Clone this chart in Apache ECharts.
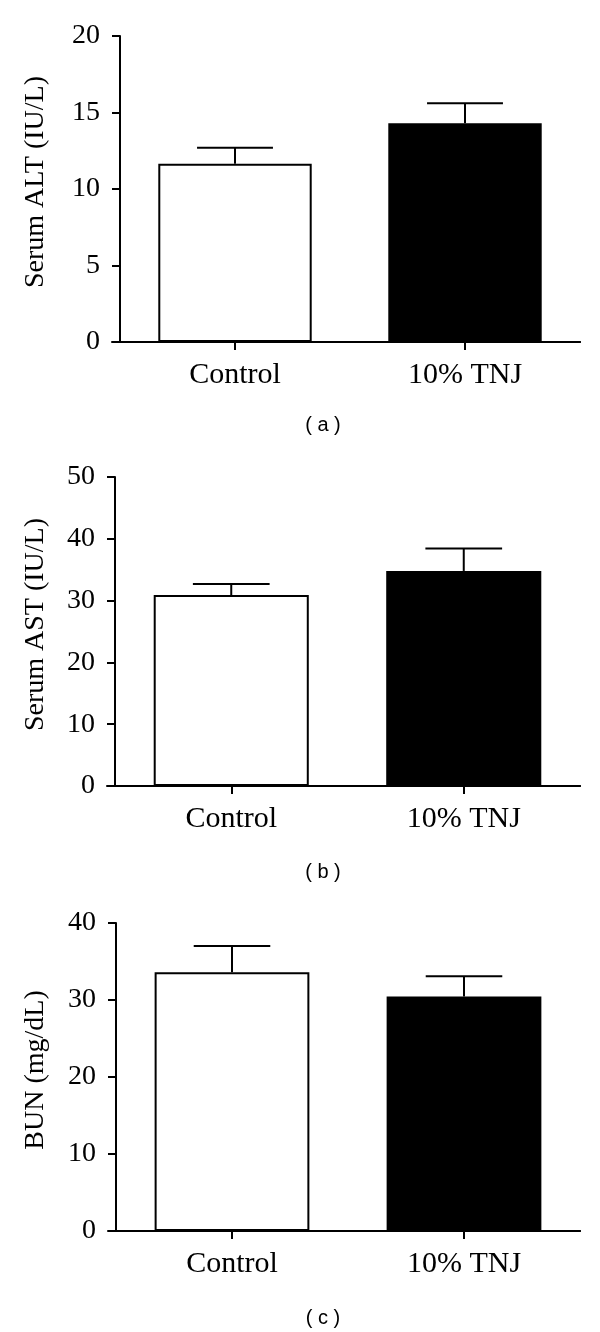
<!DOCTYPE html>
<html>
<head>
<meta charset="utf-8">
<script src="https://cdn.jsdelivr.net/npm/echarts@6/dist/echarts.min.js"></script>
<style>
  html, body { margin: 0; padding: 0; background: #fff; }
  #chart { width: 600px; height: 1332px; }
</style>
</head>
<body>
<div id="chart"></div>
<script>
// 数据
const categories = ['Control', '10% TNJ']

const altMean = [11.65, 14.3]
const altSem = [1.05, 1.3]
const altTicks = [0, 5, 10, 15, 20]

const astMean = [30.9, 34.8]
const astSem = [1.8, 3.65]
const astTicks = [0, 10, 20, 30, 40, 50]

const bunMean = [33.6, 30.45]
const bunSem = [3.4, 2.65]
const bunTicks = [0, 10, 20, 30, 40]

const axisNames = ['Serum ALT (IU/L)', 'Serum AST (IU/L)', 'BUN (mg/dL)']
const captions = ['( a )', '( b )', '( c )']

// 布局 (px)
const panels = [
  { mean: altMean, sem: altSem, ticks: altTicks, top: 36, bottom: 990, left: 120, stub: 112, gap: 70, cap: 425 },
  { mean: astMean, sem: astSem, ticks: astTicks, top: 477, bottom: 546, left: 115, stub: 107, gap: 65, cap: 872 },
  { mean: bunMean, sem: bunSem, ticks: bunTicks, top: 923, bottom: 101, left: 116, stub: 108, gap: 66, cap: 1318 }
]

const serif = 'Liberation Serif'
const black = '#000'
const lineStyle = { color: black, width: 2 }

const grid = []
const xAxis = []
const yAxis = []
const series = []
const graphic = []

panels.forEach((p, i) => {
  const gi = grid.length
  // 主绘图区
  grid.push({ left: p.left, right: 20, top: p.top, bottom: p.bottom })
  // x 轴左侧延伸段
  grid.push({ left: p.stub, right: 20, top: p.top, bottom: p.bottom })

  xAxis.push({
    type: 'category',
    gridIndex: gi,
    data: categories,
    axisLine: { show: true, lineStyle },
    axisTick: { show: true, alignWithLabel: true, length: 8, lineStyle },
    axisLabel: { color: black, fontFamily: serif, fontSize: 30, margin: 18 }
  })
  xAxis.push({
    type: 'value',
    gridIndex: gi + 1,
    axisLine: { show: true, lineStyle },
    axisTick: { show: false },
    axisLabel: { show: false },
    splitLine: { show: false }
  })

  const t = p.ticks
  yAxis.push({
    type: 'value',
    gridIndex: gi,
    min: t[0],
    max: t[t.length - 1],
    interval: t[1] - t[0],
    name: axisNames[i],
    nameLocation: 'middle',
    nameGap: p.gap,
    nameTextStyle: { color: black, fontFamily: serif, fontSize: 28, padding: [0, 0, 0, 14] },
    axisLine: { show: true, lineStyle },
    axisTick: { show: true, length: 8, lineStyle },
    axisLabel: { color: black, fontFamily: serif, fontSize: 28, margin: 20 },
    splitLine: { show: false }
  })
  yAxis.push({
    type: 'value',
    gridIndex: gi + 1,
    show: false,
    splitLine: { show: false }
  })

  const xi = xAxis.length - 2
  const yi = yAxis.length - 2

  series.push({
    type: 'bar',
    xAxisIndex: xi,
    yAxisIndex: yi,
    barWidth: '66.7%',
    silent: true,
    data: p.mean.map((v, k) => ({
      value: v,
      itemStyle: {
        color: k === 0 ? '#fff' : black,
        borderColor: black,
        borderWidth: 2
      }
    })),
    z: 2
  })

  // 误差线 (仅向上)
  series.push({
    type: 'custom',
    xAxisIndex: xi,
    yAxisIndex: yi,
    silent: true,
    z: 3,
    encode: { x: 0, y: 1 },
    data: p.mean.map((v, k) => [k, v, p.sem[k]]),
    renderItem: (params, api) => {
      const idx = api.value(0)
      const m = api.value(1)
      const e = api.value(2)
      const base = api.coord([idx, m])
      const top = api.coord([idx, m + e])
      const half = api.size([1, 0])[0] * 0.165
      const style = { stroke: black, lineWidth: 2 }
      return {
        type: 'group',
        children: [
          { type: 'line', shape: { x1: base[0], y1: base[1], x2: top[0], y2: top[1] }, style },
          { type: 'line', shape: { x1: top[0] - half, y1: top[1], x2: top[0] + half, y2: top[1] }, style }
        ]
      }
    }
  })

  graphic.push({
    type: 'text',
    x: 323,
    y: p.cap,
    style: {
      text: captions[i],
      fill: black,
      font: '20px "Liberation Sans"',
      textAlign: 'center',
      textVerticalAlign: 'middle'
    }
  })
})

const chart = echarts.init(document.getElementById('chart'), null, { renderer: 'canvas' })
chart.setOption({
  animation: false,
  backgroundColor: '#fff',
  grid,
  xAxis,
  yAxis,
  series,
  graphic
})
</script>
</body>
</html>
